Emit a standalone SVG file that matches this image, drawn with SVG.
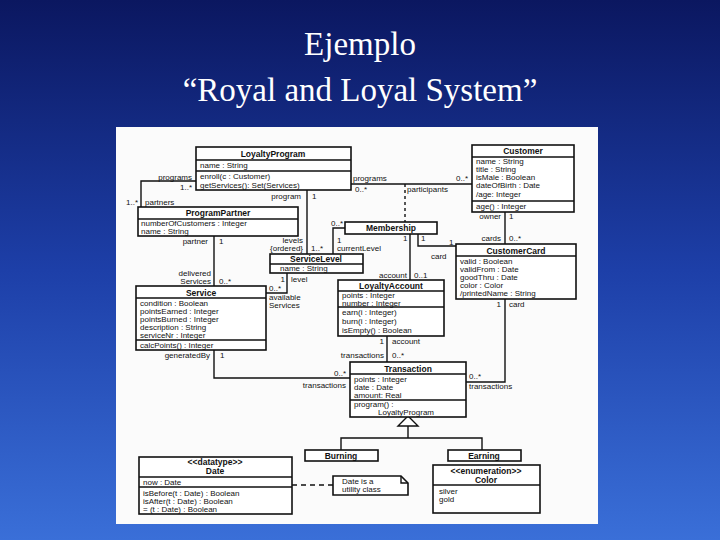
<svg xmlns="http://www.w3.org/2000/svg" width="720" height="540" viewBox="0 0 720 540">
<defs>
<linearGradient id="bg" x1="0" y1="0" x2="0" y2="1">
<stop offset="0" stop-color="#0b1760"/><stop offset="0.5" stop-color="#1d3fa8"/><stop offset="1" stop-color="#3a6fd8"/>
</linearGradient>
<style>
.b{fill:#fff;stroke:#111;stroke-width:1.6}
.l{stroke:#111;stroke-width:1.4;fill:none}
.t{font-family:"Liberation Sans",Arial,sans-serif;font-size:8px;fill:#111}
.h{font-family:"Liberation Sans",Arial,sans-serif;font-size:8.5px;font-weight:bold;fill:#111;text-anchor:middle}
.r{text-anchor:end}
.ti{font-family:"Liberation Serif","Times New Roman",serif;font-size:33px;fill:#fff;text-anchor:middle}
</style>
</defs>
<rect width="720" height="540" fill="url(#bg)"/>
<text class="ti" x="360" y="55">Ejemplo</text>
<text class="ti" x="360" y="101">“Royal and Loyal System”</text>
<rect x="116" y="127" width="482" height="397" fill="#fbfbfb"/>

<g id="connectors">
<path class="l" d="M196 181H141V207"/>
<path class="l" d="M307 190V254"/>
<path class="l" d="M351 184H472"/>
<path class="l" d="M405 184V222" stroke-dasharray="3,3"/>
<path class="l" d="M345 228H333V254"/>
<path class="l" d="M410 234V280"/>
<path class="l" d="M418 234V246H456"/>
<path class="l" d="M505 212V244"/>
<path class="l" d="M214 236V286"/>
<path class="l" d="M287 273V293H266"/>
<path class="l" d="M214 350V378H350"/>
<path class="l" d="M387 336V362"/>
<path class="l" d="M505 299V382H466"/>
<path class="l" d="M408 426V438M341 450V438H482V450"/>
<polygon points="408,416 398,426 418,426" fill="#fff" stroke="#111" stroke-width="1.4"/>
<path class="l" d="M292 485H333" stroke-dasharray="5,4"/>
</g>

<g id="labels">
<text class="t r" x="192" y="180">programs</text>
<text class="t r" x="192" y="190">1..*</text>
<text class="t r" x="138" y="205">1..*</text>
<text class="t" x="145" y="205">partners</text>
<text class="t r" x="301" y="199">program</text>
<text class="t" x="312" y="199">1</text>
<text class="t r" x="303" y="243">levels</text>
<text class="t r" x="303" y="251">{ordered}</text>
<text class="t" x="311" y="251">1..*</text>
<text class="t" x="353" y="181">programs</text>
<text class="t" x="355" y="192">0..*</text>
<text class="t r" x="468" y="181">0..*</text>
<text class="t" x="407" y="192">participants</text>
<text class="t r" x="343" y="226">0..*</text>
<text class="t" x="337" y="243">1</text>
<text class="t" x="337" y="251">currentLevel</text>
<text class="t" x="403" y="241">1</text>
<text class="t" x="421" y="241">1</text>
<text class="t" x="449" y="245">1</text>
<text class="t" x="431" y="259">card</text>
<text class="t r" x="407" y="278">account</text>
<text class="t" x="414" y="278">0..1</text>
<text class="t r" x="501" y="219">owner</text>
<text class="t" x="509" y="219">1</text>
<text class="t r" x="501" y="241">cards</text>
<text class="t" x="509" y="241">0..*</text>
<text class="t r" x="208" y="244">partner</text>
<text class="t" x="219" y="244">1</text>
<text class="t r" x="211" y="276">delivered</text>
<text class="t r" x="211" y="284">Services</text>
<text class="t" x="219" y="284">0..*</text>
<text class="t r" x="285" y="282">1</text>
<text class="t" x="291" y="282">level</text>
<text class="t" x="269" y="291">0..*</text>
<text class="t" x="269" y="300">available</text>
<text class="t" x="269" y="308">Services</text>
<text class="t r" x="210" y="358">generatedBy</text>
<text class="t" x="220" y="358">1</text>
<text class="t r" x="346" y="376">0..*</text>
<text class="t r" x="346" y="388">transactions</text>
<text class="t r" x="384" y="344">1</text>
<text class="t" x="392" y="344">account</text>
<text class="t r" x="384" y="358">transactions</text>
<text class="t" x="392" y="358">0..*</text>
<text class="t r" x="501" y="307">1</text>
<text class="t" x="509" y="307">card</text>
<text class="t" x="469" y="379">0..*</text>
<text class="t" x="469" y="389">transactions</text>
</g>

<g id="LoyaltyProgram">
<rect class="b" x="196" y="147" width="155" height="43"/>
<path class="l" d="M196 160H351M196 171H351"/>
<text class="h" x="273" y="157">LoyaltyProgram</text>
<text class="t" x="200" y="168">name : String</text>
<text class="t" x="200" y="179">enroll(c : Customer)</text>
<text class="t" x="200" y="188">getServices(): Set(Services)</text>
</g>
<g id="ProgramPartner">
<rect class="b" x="138" y="207" width="160" height="29"/>
<path class="l" d="M138 219H298"/>
<text class="h" x="218" y="216">ProgramPartner</text>
<text class="t" x="141" y="226">numberOfCustomers : Integer</text>
<text class="t" x="141" y="234">name : String</text>
</g>
<g id="Customer">
<rect class="b" x="472" y="145" width="102" height="67"/>
<path class="l" d="M472 157H574M472 201H574"/>
<text class="h" x="523" y="154">Customer</text>
<text class="t" x="476" y="164">name : String</text>
<text class="t" x="476" y="172">title : String</text>
<text class="t" x="476" y="180">isMale : Boolean</text>
<text class="t" x="476" y="188">dateOfBirth : Date</text>
<text class="t" x="476" y="197">/age: Integer</text>
<text class="t" x="476" y="209">age() : Integer</text>
</g>
<g id="Membership">
<rect class="b" x="345" y="222" width="92" height="12"/>
<text class="h" x="391" y="231">Membership</text>
</g>
<g id="ServiceLevel">
<rect class="b" x="270" y="254" width="93" height="19"/>
<path class="l" d="M270 264H363"/>
<text class="h" x="316" y="262">ServiceLevel</text>
<text class="t" x="280" y="271">name : String</text>
</g>
<g id="CustomerCard">
<rect class="b" x="456" y="244" width="120" height="55"/>
<path class="l" d="M456 256H576"/>
<text class="h" x="516" y="254">CustomerCard</text>
<text class="t" x="460" y="264">valid : Boolean</text>
<text class="t" x="460" y="272">validFrom : Date</text>
<text class="t" x="460" y="280">goodThru : Date</text>
<text class="t" x="460" y="288">color : Color</text>
<text class="t" x="460" y="296">/printedName : String</text>
</g>
<g id="Service">
<rect class="b" x="136" y="286" width="130" height="64"/>
<path class="l" d="M136 298H266M136 340H266"/>
<text class="h" x="201" y="296">Service</text>
<text class="t" x="140" y="306">condition : Boolean</text>
<text class="t" x="140" y="314">pointsEarned : Integer</text>
<text class="t" x="140" y="322">pointsBurned : Integer</text>
<text class="t" x="140" y="330">description : String</text>
<text class="t" x="140" y="338">serviceNr : Integer</text>
<text class="t" x="140" y="348">calcPoints() : Integer</text>
</g>
<g id="LoyaltyAccount">
<rect class="b" x="338" y="280" width="106" height="56"/>
<path class="l" d="M338 291H444M338 307H444"/>
<text class="h" x="391" y="289">LoyaltyAccount</text>
<text class="t" x="342" y="298">points : Integer</text>
<text class="t" x="342" y="306">number : Integer</text>
<text class="t" x="342" y="315">earn(i : Integer)</text>
<text class="t" x="342" y="324">burn(i : Integer)</text>
<text class="t" x="342" y="333">isEmpty() : Boolean</text>
</g>
<g id="Transaction">
<rect class="b" x="350" y="362" width="116" height="55"/>
<path class="l" d="M350 374H466M350 400H466"/>
<text class="h" x="408" y="372">Transaction</text>
<text class="t" x="354" y="382">points : Integer</text>
<text class="t" x="354" y="390">date : Date</text>
<text class="t" x="354" y="398">amount: Real</text>
<text class="t" x="354" y="407">program() :</text>
<text class="t" x="378" y="415">LoyaltyProgram</text>
</g>
<g id="Burning">
<rect class="b" x="305" y="450" width="73" height="11"/>
<text class="h" x="341" y="459">Burning</text>
</g>
<g id="Earning">
<rect class="b" x="448" y="450" width="73" height="11"/>
<text class="h" x="484" y="459">Earning</text>
</g>
<g id="Date">
<rect class="b" x="139" y="457" width="153" height="57"/>
<path class="l" d="M139 477H292M139 487H292"/>
<text class="h" x="215" y="465">&lt;&lt;datatype&gt;&gt;</text>
<text class="h" x="215" y="474">Date</text>
<text class="t" x="143" y="485">now : Date</text>
<text class="t" x="143" y="496">isBefore(t : Date) : Boolean</text>
<text class="t" x="143" y="504">isAfter(t : Date) : Boolean</text>
<text class="t" x="143" y="512">= (t : Date) : Boolean</text>
</g>
<g id="Note">
<path class="b" d="M333 476H401L408 483V495H333Z" stroke-width="1.2"/>
<path class="l" d="M401 476V483H408" stroke-width="1"/>
<text class="t" x="342" y="484">Date is a</text>
<text class="t" x="342" y="492">utility class</text>
</g>
<g id="Color">
<rect class="b" x="433" y="465" width="107" height="48"/>
<path class="l" d="M433 485H540"/>
<text class="h" x="486" y="474">&lt;&lt;enumeration&gt;&gt;</text>
<text class="h" x="486" y="483">Color</text>
<text class="t" x="439" y="494">silver</text>
<text class="t" x="439" y="502">gold</text>
</g>
</svg>
